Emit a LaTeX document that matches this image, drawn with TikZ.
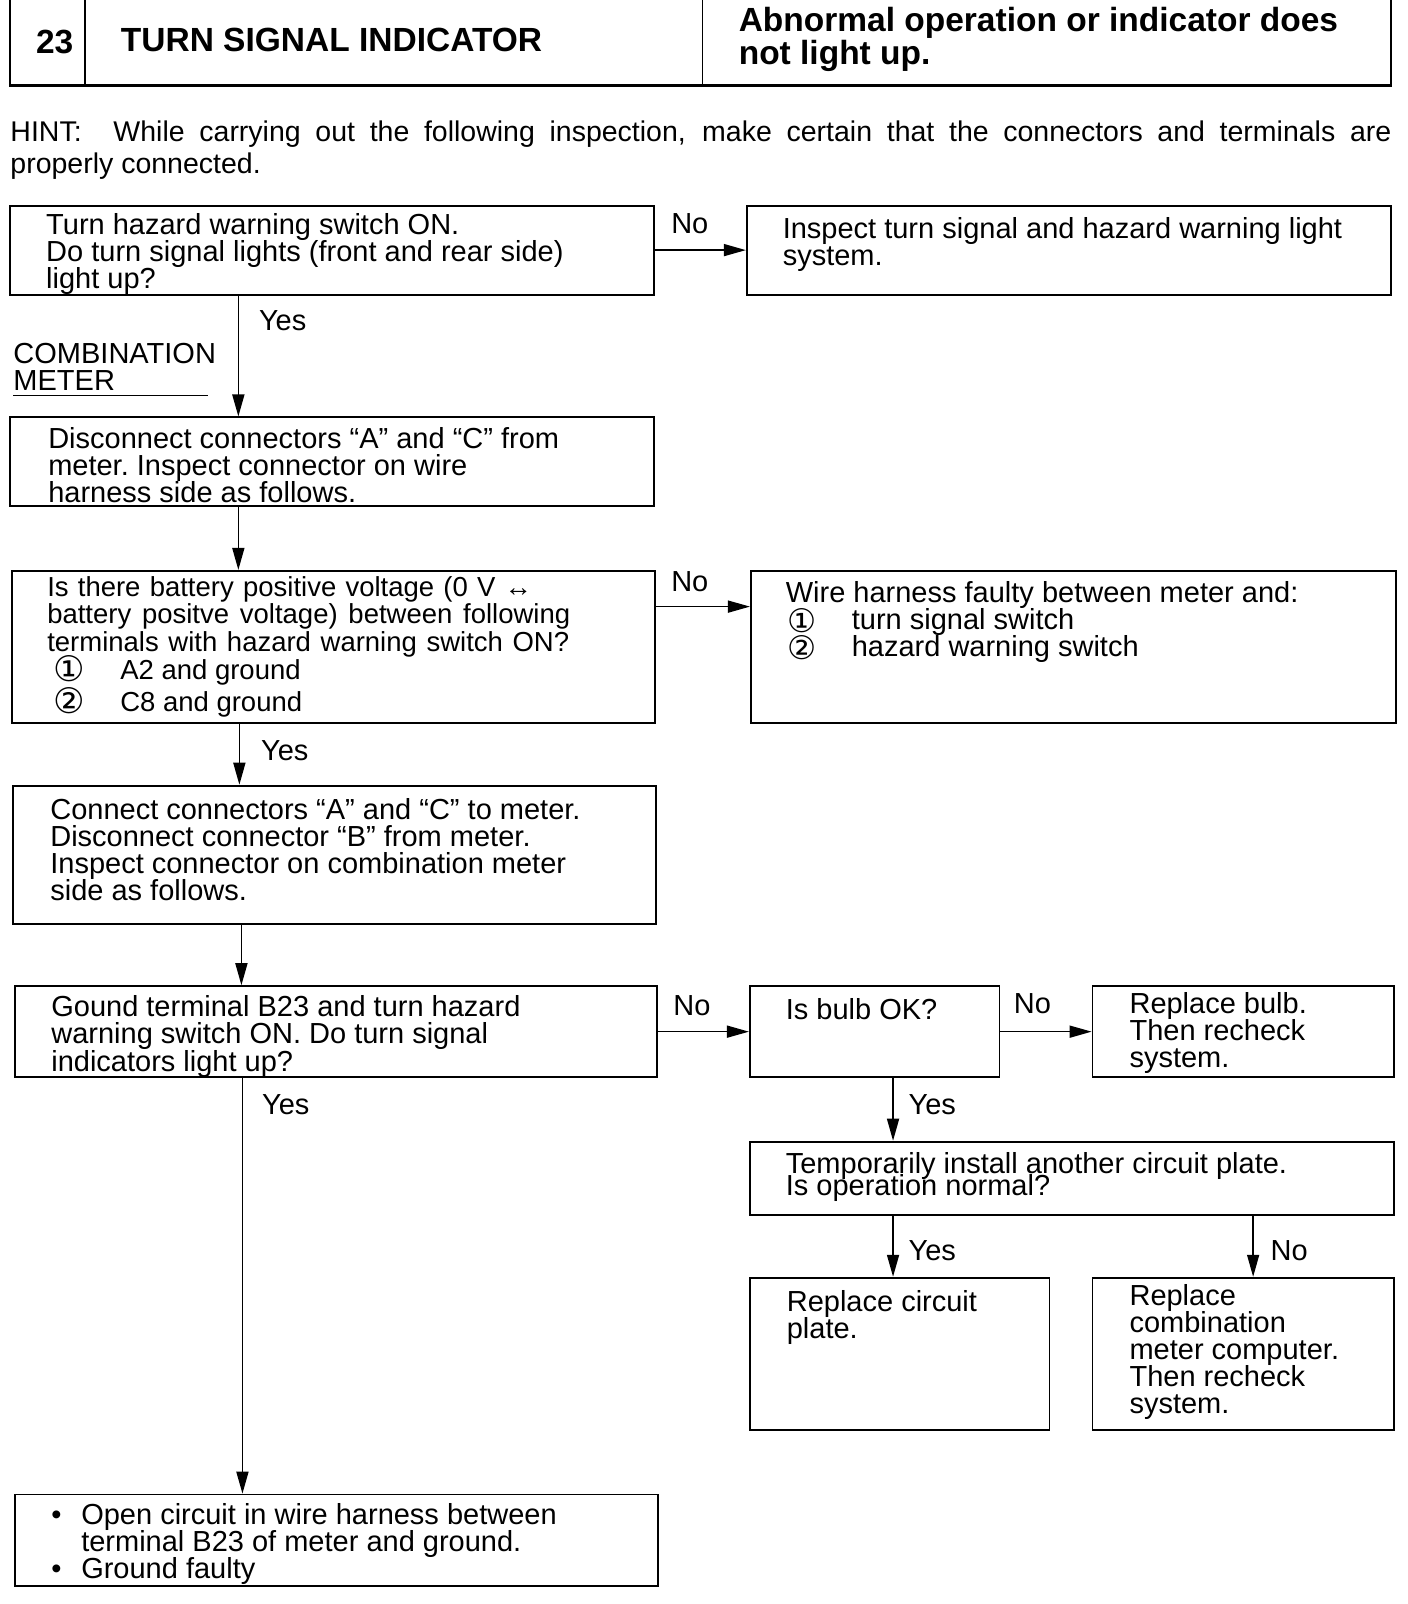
\documentclass[tikz,border=0pt]{standalone}
\usepackage{fontspec}
\setmainfont{Liberation Sans}
\newfontfamily\circfont[Scale=1.28]{DejaVu Sans}
\newfontfamily\circfontsm[Scale=1.12]{DejaVu Sans}
\usetikzlibrary{arrows.meta,fit}
\newcommand\jline[2]{\makebox[#1][s]{\spaceskip=0pt\xspaceskip=0pt #2}}
\newcommand\cnum[1]{\smash{\raisebox{-2.5pt}{\circfont #1}}}
\newcommand\cnumsm[1]{\smash{\raisebox{-2.5pt}{\circfontsm #1}}}
\begin{document}
\begin{tikzpicture}[x=1.023pt,y=-1.023pt,
  bx/.style={draw,line width=1.8pt,inner sep=0pt},
  txt/.style={anchor=base west,inner sep=0pt,align=flush left,text width=700pt,font=\fontsize{29}{27.1}\selectfont\frenchspacing},
  smalltxt/.style={txt,font=\fontsize{27.5}{27.6}\selectfont\frenchspacing},
  head/.style={anchor=base west,inner sep=0pt,align=flush left,text width=700pt,font=\bfseries\fontsize{33.5}{32.7}\selectfont},
  arr/.style={line width=1.6pt,-{Triangle[length=22pt,width=12pt]}},
  lbl/.style={anchor=base west,inner sep=0pt,font=\fontsize{29}{29}\selectfont},
]
\useasboundingbox (0,0) rectangle (1376,1568);

% header
\node[bx,fit={(10,-6) (1360,83)}] (hdr) {};
\draw[line width=3pt] (hdr.south west) -- (hdr.south east);
\draw[line width=1.2pt] (83,-6) -- (83,83);
\draw[line width=1.0pt] (687,-6) -- (687,83);
\node[head] (hnum) at (35,52) {23};
\node[head] (htitle) at (118,50) {TURN SIGNAL INDICATOR};
\node[head] (hsym) at (722,31) {Abnormal operation or indicator does\\not light up.};

% hint
\node[txt,text width=1390pt,font=\fontsize{28.5}{32.7}\selectfont] (hint) at (10,138)
  {\jline{1381pt}{HINT:\hspace{0.6em} While carrying out the following inspection, make certain that the connectors and terminals are}\\properly connected.};

% boxes
\node[bx,fit={(10,201) (639,288)}] (b1) {};
\node[bx,fit={(730,201) (1360,288)}] (r1) {};
\node[bx,fit={(10,408) (639,495)}] (b2) {};
\node[bx,fit={(12,558) (640,707)}] (b3) {};
\node[bx,fit={(734,558) (1365,707)}] (r3) {};
\node[bx,fit={(13,768) (641,903)}] (b4) {};
\node[bx,fit={(15,964) (642,1053)}] (b5) {};
\node[bx,fit={(733,964) (977,1053)}] (b6) {};
\node[bx,fit={(1068,964) (1363,1053)}] (b7) {};
\node[bx,fit={(733,1116) (1363,1188)}] (b8) {};
\node[bx,fit={(733,1249) (1026,1398)}] (b9) {};
\node[bx,fit={(1068,1249) (1363,1398)}] (b10) {};
\node[bx,fit={(15,1461) (643,1550)}] (b11) {};

% texts
\node[txt] (t1) at (45,229) {Turn hazard warning switch ON.\\Do turn signal lights (front and rear side)\\light up?};
\node[txt] (tr1) at (765,233) {Inspect turn signal and hazard warning light\\system.};
\node[txt] (tcm) at (13,355) {COMBINATION\\METER};
\draw[line width=1.2pt] (13,387) -- (203,387);
\node[txt] (t2) at (47,438) {Disconnect connectors “A” and “C” from\\meter. Inspect connector on wire\\harness side as follows.};
\node[smalltxt] (t3) at (46,583) {\jline{485pt}{Is there battery positive voltage (0 V ↔}\\
  \jline{523pt}{battery positve voltage) between following}\\
  \jline{522pt}{terminals with hazard warning switch ON?}\\
  \hspace*{6pt}\makebox[67pt][l]{\cnum{①}}A2 and ground\\[4.5pt]
  \hspace*{6pt}\makebox[67pt][l]{\cnum{②}}C8 and ground};
\node[txt] (tr3) at (768,589) {Wire harness faulty between meter and:\\
  \hspace*{2pt}\makebox[64pt][l]{\cnumsm{①}}turn signal switch\\
  \hspace*{2pt}\makebox[64pt][l]{\cnumsm{②}}hazard warning switch};
\node[txt] (t4) at (49,801) {Connect connectors “A” and “C” to meter.\\Disconnect connector “B” from meter.\\Inspect connector on combination meter\\side as follows.};
\node[txt] (t5) at (50,994) {Gound terminal B23 and turn hazard\\warning switch ON. Do turn signal\\indicators light up?};
\node[txt] (t6) at (768,997) {Is bulb OK?};
\node[txt] (t7) at (1104,991) {Replace bulb.\\Then recheck\\system.};
\node[txt] (t8) at (768,1147) {Temporarily install another circuit plate.\\[-5pt]Is operation normal?};
\node[txt] (t9) at (769,1282) {Replace circuit\\plate.};
\node[txt] (t10) at (1104,1276) {Replace\\combination\\meter computer.\\Then recheck\\system.};
\node[txt] (t11) at (47,1490) {\makebox[33pt][l]{\hspace{3pt}•}Open circuit in wire harness between\\\hspace*{33pt}terminal B23 of meter and ground.\\\makebox[33pt][l]{\hspace{3pt}•}Ground faulty};

% connector columns / rows
\coordinate (cA) at (233,0);
\coordinate (cB) at (234,0);
\coordinate (cC) at (236,0);
\coordinate (cD) at (237,0);
\coordinate (cE) at (873,0);
\coordinate (cF) at (1225,0);
\coordinate (rA) at (0,593);

% connectors
\draw[arr] (b1.east) -- (r1.west);
\node[lbl] (n1) at (656,228) {No};
\draw[arr] (b1.south -| cA) -- (b2.north -| cA);
\node[lbl] (y1) at (253,323) {Yes};
\draw[arr] (b2.south -| cA) -- (b3.north -| cA);
\draw[arr] (b3.east |- rA) -- (r3.west |- rA);
\node[lbl] (n2) at (656,578) {No};
\draw[arr] (b3.south -| cB) -- (b4.north -| cB);
\node[lbl] (y2) at (255,743) {Yes};
\draw[arr] (b4.south -| cC) -- (b5.north -| cC);
\draw[arr] (b5.east) -- (b6.west);
\node[lbl] (n3) at (658,993) {No};
\draw[arr] (b6.east) -- (b7.west);
\node[lbl] (n4) at (991,991) {No};
\draw[arr] (b5.south -| cD) -- (b11.north -| cD);
\node[lbl] (y3) at (256,1089) {Yes};
\draw[arr] (b6.south -| cE) -- (b8.north -| cE);
\node[lbl] (y4) at (888,1089) {Yes};
\draw[arr] (b8.south -| cE) -- (b9.north -| cE);
\node[lbl] (y5) at (888,1232) {Yes};
\draw[arr] (b8.south -| cF) -- (b10.north -| cF);
\node[lbl] (n5) at (1242,1232) {No};
\end{tikzpicture}
\end{document}
